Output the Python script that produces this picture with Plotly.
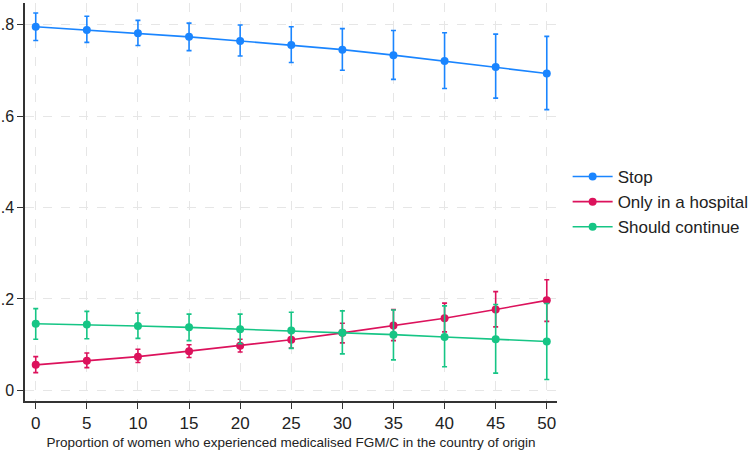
import plotly.graph_objects as go

x = [0, 5, 10, 15, 20, 25, 30, 35, 40, 45, 50]

stop = [0.795, 0.788, 0.781, 0.773, 0.764, 0.755, 0.745, 0.733, 0.720, 0.707, 0.693]
stop_hi = [0.825, 0.818, 0.809, 0.803, 0.799, 0.795, 0.791, 0.787, 0.782, 0.779, 0.774]
stop_lo = [0.765, 0.761, 0.754, 0.743, 0.731, 0.717, 0.700, 0.680, 0.660, 0.639, 0.614]

hosp = [0.056, 0.065, 0.074, 0.086, 0.098, 0.111, 0.126, 0.142, 0.158, 0.177, 0.197]
hosp_hi = [0.074, 0.082, 0.090, 0.100, 0.112, 0.129, 0.147, 0.177, 0.191, 0.216, 0.242]
hosp_lo = [0.039, 0.050, 0.061, 0.072, 0.084, 0.093, 0.104, 0.109, 0.128, 0.139, 0.151]

cont = [0.146, 0.144, 0.141, 0.138, 0.134, 0.131, 0.126, 0.122, 0.117, 0.112, 0.107]
cont_hi = [0.179, 0.173, 0.169, 0.167, 0.167, 0.171, 0.174, 0.176, 0.185, 0.188, 0.190]
cont_lo = [0.112, 0.113, 0.114, 0.109, 0.102, 0.092, 0.080, 0.067, 0.052, 0.038, 0.024]

y_ticks = [0, 0.2, 0.4, 0.6, 0.8]
y_ticktext = ["0", ".2", ".4", ".6", ".8"]
x_ticks = x

series = [
    ("Stop", stop, stop_hi, stop_lo, "#1a85ff"),
    ("Only in a hospital", hosp, hosp_hi, hosp_lo, "#dc125c"),
    ("Should continue", cont, cont_hi, cont_lo, "#16c585"),
]

fig = go.Figure()
for name, v, hi, lo, col in series:
    fig.add_trace(go.Scatter(
        x=x, y=v, name=name, mode="lines+markers",
        line=dict(color=col, width=1.6),
        marker=dict(color=col, size=8),
        error_y=dict(type="data", symmetric=False,
                     array=[h - m for h, m in zip(hi, v)],
                     arrayminus=[m - l for m, l in zip(v, lo)],
                     color=col, thickness=1.6, width=2.5),
    ))

fig.update_layout(
    width=748, height=450,
    margin=dict(l=25, r=191, t=3, b=49, autoexpand=False),
    paper_bgcolor="white", plot_bgcolor="white",
    font=dict(family="Arial, Liberation Sans, sans-serif", color="#222"),
    legend=dict(x=1.02, y=0.5, yanchor="middle", xanchor="left",
                font=dict(size=17, color="#222"), tracegroupgap=0,
                itemwidth=40, bgcolor="rgba(0,0,0,0)"),
    xaxis=dict(range=[-1.05, 51.0], tickvals=x_ticks, ticks="outside", ticklen=6,
               tickcolor="#333", showline=True, linecolor="#333", linewidth=1.5,
               showgrid=True, gridcolor="#e6e6e6", griddash="dash", gridwidth=1,
               zeroline=False, tickfont=dict(size=17, color="#222"),
               title=dict(text="Proportion of women who experienced medicalised FGM/C in the country of origin",
                          font=dict(size=13.5, color="#222"), standoff=5)),
    yaxis=dict(range=[-0.023, 0.847], tickvals=y_ticks, ticktext=y_ticktext,
               ticks="outside", ticklen=6, tickcolor="#333",
               showline=True, linecolor="#333", linewidth=1.5,
               showgrid=True, gridcolor="#e6e6e6", griddash="dash", gridwidth=1,
               zeroline=False, tickfont=dict(size=16, color="#222")),
)

fig.write_html("out.html")
